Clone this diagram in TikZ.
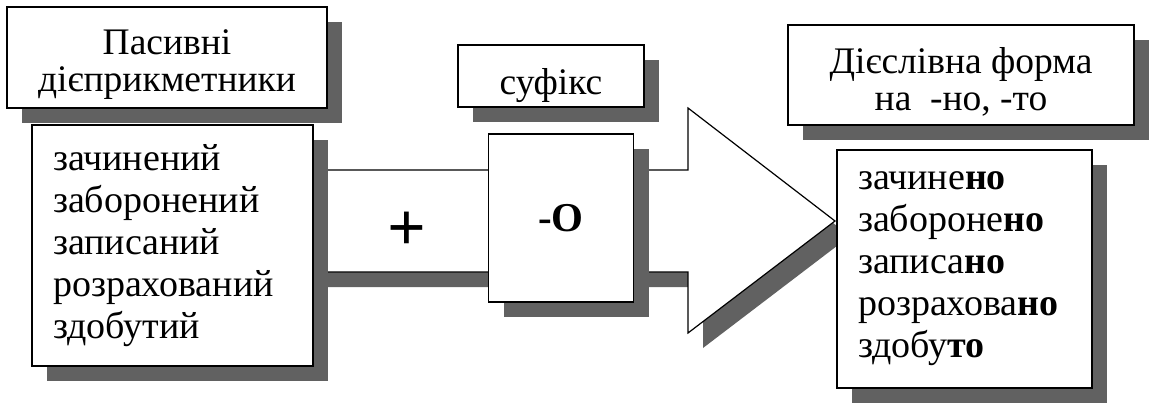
\documentclass[tikz,border=0pt]{standalone}
\usepackage{fontspec}
\setmainfont{Liberation Serif}
\usetikzlibrary{shadows}

\begin{document}
\begin{tikzpicture}[x=1pt,y=1pt]
\tikzset{
  boxshadow/.style={drop shadow={shadow xshift=15pt,shadow yshift=-15pt,fill=black!62,opacity=1}},
  framebox/.style={rectangle,draw=black,line width=1.3pt,fill=white,boxshadow,inner sep=0pt},
  titlebox/.style={framebox,align=center,font=\fontsize{37.5}{37}\selectfont},
  listbox/.style={framebox,align=left,font=\fontsize{38}{42}\selectfont,inner xsep=21pt},
  blockarrow/.style={draw=black,line width=1.2pt,fill=white,line join=miter,boxshadow}
}
\useasboundingbox (0,0) rectangle (1158,402);
% big arrow behind the boxes
\path[blockarrow] (300,232) -- (688,232) -- (688,294) -- (835,181) -- (688,69) -- (688,130) -- (300,130) -- cycle;
\node[titlebox,minimum width=320,minimum height=101] (n_passive) at (167,344.5) {\rule{0pt}{1.05em}Пасивні\\дієприкметники};
\node[listbox,text width=239,minimum height=241] (n_passive_list) at (172.5,156.5)
  {зачинений\\заборонений\\записаний\\розрахований\\здобутий};
\node[font=\fontsize{68}{68}\selectfont\bfseries] (n_plus) at (407,171) {+};
\node[titlebox,minimum width=186,minimum height=62] (n_suffix) at (551,326) {\rule{0pt}{1.2em}суфікс};
\node[framebox,minimum width=145,minimum height=168,font=\fontsize{41}{41}\selectfont\bfseries] (n_o) at (561,184) {-О};
\node[titlebox,minimum width=346,minimum height=100] (n_verb) at (961,327) {\rule{0pt}{1.05em}Дієслівна форма\\на \ -но, -то};
\node[listbox,text width=213,minimum height=238] (n_verb_list) at (964.5,133)
  {зачине\textbf{но}\\забороне\textbf{но}\\записа\textbf{но}\\розрахова\textbf{но}\\здобу\textbf{то}};
\end{tikzpicture}
\end{document}
